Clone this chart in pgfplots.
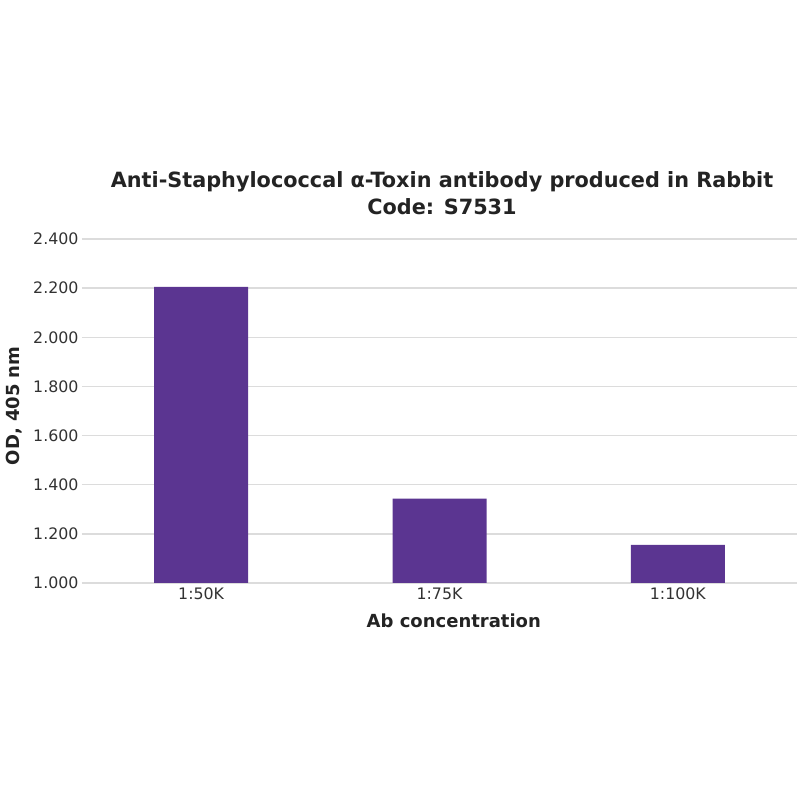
\documentclass[border=0pt]{standalone}
\usepackage{pgfplots}
\pgfplotsset{compat=1.18}
\usepackage{fontspec}
\setmainfont{DejaVu Sans}
\usepackage{graphicx}
\definecolor{barc}{RGB}{91,53,145}
\definecolor{gridc}{RGB}{220,220,220}
\definecolor{txt}{RGB}{35,35,35}
\definecolor{tick}{RGB}{50,50,50}
\begin{document}
\begin{tikzpicture}[x=1pt,y=1pt]
\path[use as bounding box] (0,0) rectangle (800,800);
\node[text=txt, align=center, font=\bfseries\fontsize{21}{27}\selectfont] at (442,607)
  {\scalebox{0.99}[1]{Anti-Staphylococcal α-Toxin antibody produced in Rabbit}\\\scalebox{0.99}[1]{Code: S7531}};
\begin{axis}[
  at={(82pt,217pt)}, anchor=south west,
  scale only axis, width=715pt, height=344pt,
  xmin=-0.5, xmax=2.5, ymin=1, ymax=2.4,
  axis line style={draw=none},
  major tick length=0pt,
  ymajorgrids, grid style={gridc, line width=1.3pt},
  xtick={0,1,2}, xticklabels={1:50K,1:75K,1:100K},
  ytick={1,1.2,1.4,1.6,1.8,2.0,2.2,2.4},
  yticklabels={1.000,1.200,1.400,1.600,1.800,2.000,2.200,2.400},
  tick label style={font=\fontsize{15.8}{18}\selectfont, text=tick},
  yticklabel style={xshift=0pt},
  xticklabel style={yshift=-1pt},
  xlabel={Ab concentration},
  ylabel={OD, 405 nm},
  label style={font=\bfseries\fontsize{18}{21}\selectfont, text=txt},
  xlabel style={at={(axis description cs:0.52,0)}, anchor=base, yshift=-45pt},
  ylabel style={at={(axis description cs:0,0.515)}, anchor=base, yshift=62pt},
  ybar, bar width=94pt,
]
\addplot[fill=barc, draw=none] coordinates {(0,2.205) (1,1.343) (2,1.155)};
\end{axis}
\end{tikzpicture}
\end{document}
